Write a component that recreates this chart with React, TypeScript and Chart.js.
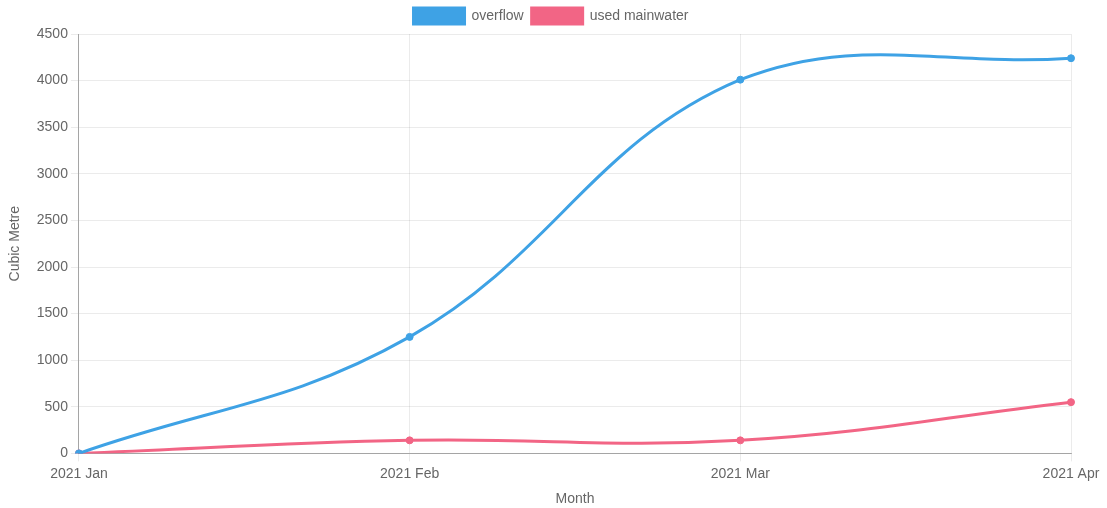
import React, { useEffect, useRef } from "react";
import { Chart, registerables } from "chart.js";

Chart.register(...registerables);

const months = ["2021 Jan", "2021 Feb", "2021 Mar", "2021 Apr"];
const overflow = [0, 1250, 4010, 4240];
const usedMainwater = [0, 140, 140, 550];

const BLUE = "rgb(62, 162, 229)";
const PINK = "rgb(242, 101, 133)";
const TEXT = "#666";
const FONT = "'Liberation Sans', Arial, sans-serif";

export default function App() {
  const canvasRef = useRef<HTMLCanvasElement | null>(null);

  useEffect(() => {
    if (!canvasRef.current) return;
    const chart = new Chart(canvasRef.current, {
      type: "line",
      data: {
        labels: months,
        datasets: [
          {
            label: "overflow",
            data: overflow,
            borderColor: BLUE,
            backgroundColor: BLUE,
            borderWidth: 3,
            pointRadius: 3.5,
            pointBorderWidth: 1,
            pointBackgroundColor: BLUE,
            pointBorderColor: BLUE,
            tension: 0.4,
            fill: false,
          },
          {
            label: "used mainwater",
            data: usedMainwater,
            borderColor: PINK,
            backgroundColor: PINK,
            borderWidth: 3,
            pointRadius: 3.5,
            pointBorderWidth: 1,
            pointBackgroundColor: PINK,
            pointBorderColor: PINK,
            tension: 0.4,
            fill: false,
          },
        ],
      },
      options: {
        animation: false,
        responsive: true,
        maintainAspectRatio: false,
        layout: { padding: { left: 3, right: 8, top: 0, bottom: 0 } },
        plugins: {
          legend: {
            position: "top",
            labels: {
              boxWidth: 51,
              boxHeight: 16,
              color: TEXT,
              font: { family: FONT, size: 14 },
              padding: 8,
            },
          },
          tooltip: { enabled: false },
        },
        scales: {
          x: {
            offset: false,
            grid: { color: "rgba(0,0,0,0.08)", tickLength: 8 },
            border: { color: "rgba(0,0,0,0.3)" },
            // leave room on the right for the last month label
            afterFit: (scale) => {
              scale.paddingRight = 36;
            },
            ticks: {
              color: TEXT,
              maxRotation: 0,
              padding: 4,
              font: { family: FONT, size: 14 },
            },
            title: {
              display: true,
              text: "Month",
              color: TEXT,
              padding: { top: 5, bottom: 0 },
              font: { family: FONT, size: 14 },
            },
          },
          y: {
            min: 0,
            max: 4500,
            grid: { color: "rgba(0,0,0,0.08)", tickLength: 8 },
            border: { color: "rgba(0,0,0,0.3)" },
            ticks: {
              stepSize: 500,
              color: TEXT,
              font: { family: FONT, size: 14 },
              callback: (value) => String(value),
            },
            title: {
              display: true,
              text: "Cubic Metre",
              color: TEXT,
              padding: { top: 4, bottom: 10 },
              font: { family: FONT, size: 14 },
            },
          },
        },
      },
    });
    return () => chart.destroy();
  }, []);

  return (
    <div style={{ position: "absolute", left: 0, top: 0, width: 1107, height: 508, background: "#fff" }}>
      <canvas ref={canvasRef} />
    </div>
  );
}
